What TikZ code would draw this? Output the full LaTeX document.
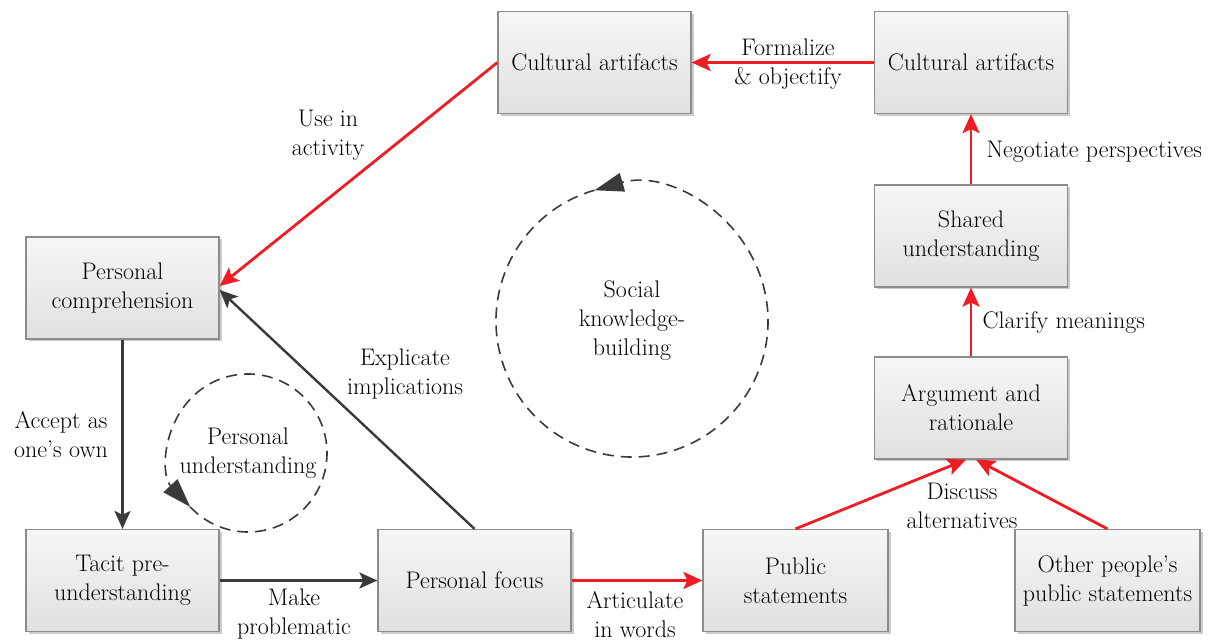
\documentclass[tikz,border=0pt]{standalone}
\usetikzlibrary{arrows.meta,shadows,positioning}

\definecolor{boxline}{HTML}{8C8C8C}
\definecolor{linkred}{HTML}{EE1C25}
\definecolor{linkdark}{HTML}{3A3A3A}

\begin{document}
\begin{tikzpicture}[x=1pt,y=1pt,
		every node/.style={font=\fontsize{24}{29}\selectfont, align=center},
		stage/.style={draw=boxline, line width=1.2pt, top color=gray!7, bottom color=gray!24,
			minimum height=102pt, inner sep=0pt,
			drop shadow={shadow xshift=2.5pt, shadow yshift=-2.5pt, fill=black!40, opacity=0.5}},
		redlink/.style={draw=linkred, line width=2.8pt, -{Stealth[length=19pt,width=17pt,inset=4pt]}},
		darklink/.style={draw=linkdark, line width=2.4pt, -{Stealth[length=18pt,width=16pt,inset=4pt]}},
		loopcircle/.style={circle, inner sep=0pt, outer sep=0pt},
		looparrow/.style={draw=linkdark, line width=1.6pt, dash pattern=on 11pt off 7pt,
			-{Triangle[length=29pt,width=19pt]}}]
		\useasboundingbox (0,0) rectangle (1223,642);
		
		% Boxes: {name, x, y, width, text}, y counted from the bottom
		\foreach \name/\x/\y/\w/\txt in {
				artL/594.5/579.5/193/{Cultural artifacts},
				artR/971/579.5/193/{Cultural artifacts},
				shared/971/406/193/{Shared\\understanding},
				argue/971/234/193/{Argument and\\rationale},
				comp/122.5/354/193/{Personal\\comprehension},
				tacit/122.5/61.5/193/{Tacit pre-\\understanding},
				focus/474.5/61.5/193/{Personal focus},
				public/795.5/61.5/185/{Public\\statements},
				others/1107.5/61.5/185/{Other people's\\public statements}}{
			\node[stage, minimum width=\w pt] (\name) at (\x,\y) {\txt};
		}
		
		% The two cycles
		\node[loopcircle, minimum size=272pt] (social) at (632,321) {Social\\knowledge-\\building};
		\node[loopcircle, minimum size=158pt] (personal) at (248,189) {Personal\\understanding};
		\draw[looparrow] (social.106) arc[start angle=106, end angle=466, radius=136pt];
		\draw[looparrow] (personal.223) arc[start angle=223, end angle=583, radius=79pt];
		
		% Personal side (dark)
		\draw[darklink] (comp) -- (tacit);
		\draw[darklink] (tacit) -- (focus);
		\draw[darklink] (focus.north) -- ([yshift=-2pt]comp.east);
		
		% Social side (red)
		\draw[redlink] (focus) -- (public);
		\draw[redlink] (public.north) -- ([xshift=-5pt]argue.south);
		\draw[redlink] (others.north) -- ([xshift=5pt]argue.south);
		\draw[redlink] (argue) -- (shared);
		\draw[redlink] (shared) -- (artR);
		\draw[redlink] (artR) -- (artL);
		\draw[redlink] (artL.west) -- ([yshift=2pt]comp.east);
		
		% Link labels
		\node (lblFormalize) at (788,578) {Formalize\\\& objectify};
		\node (lblUse) at (328,507) {Use in\\activity};
		\node (lblAccept) at (61,207) {Accept as\\one's own};
		\node (lblMake) at (294,28) {Make\\problematic};
		\node (lblExplicate) at (405,268) {Explicate\\implications};
		\node (lblArticulate) at (635,27) {Articulate\\in words};
		\node (lblDiscuss) at (962,136) {Discuss\\alternatives};
		\node[anchor=west] (lblClarify) at (979,319) {Clarify meanings};
		\node[anchor=west] (lblNegotiate) at (983,490) {Negotiate perspectives};
	\end{tikzpicture}
\end{document}
